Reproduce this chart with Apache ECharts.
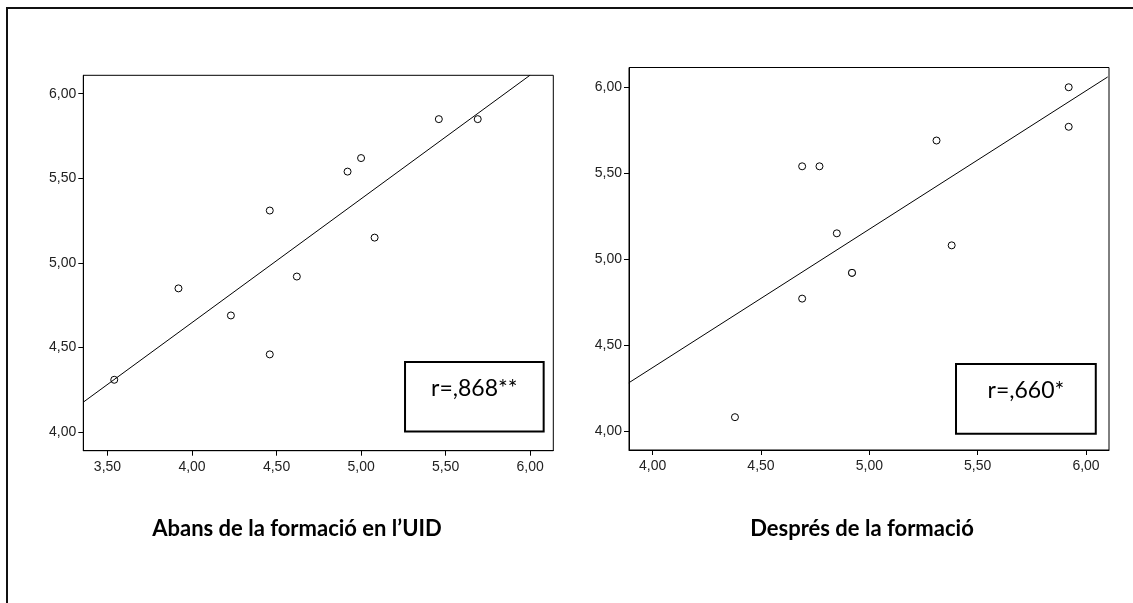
<!DOCTYPE html>
<html><head><meta charset="utf-8">
<script src="https://cdn.jsdelivr.net/npm/echarts@6/dist/echarts.min.js"></script>
<style>html,body{margin:0;padding:0;background:#fff}#c{width:1133px;height:603px}</style>
</head><body><div id="c"></div>
<script>
// ---- data ----
const beforeX = [3.54, 3.92, 4.23, 4.46, 4.46, 4.62, 4.92, 5.00, 5.08, 5.46, 5.69];
const beforeY = [4.31, 4.85, 4.69, 5.31, 4.46, 4.92, 5.54, 5.62, 5.15, 5.85, 5.85];
const afterX  = [4.38, 4.69, 4.69, 4.77, 4.85, 4.92, 4.92, 5.31, 5.38, 5.92, 5.92];
const afterY  = [4.08, 5.54, 4.77, 5.54, 5.15, 4.92, 4.92, 5.69, 5.08, 6.00, 5.77];
const beforeFitX = [3.36, 6.00];
const beforeFitY = [4.18, 6.11];
const afterFitX = [3.89, 6.10];
const afterFitY = [4.28, 6.06];
const beforeXTicks = [3.5, 4.0, 4.5, 5.0, 5.5, 6.0];
const afterXTicks = [4.0, 4.5, 5.0, 5.5, 6.0];
const yTicks = [4.0, 4.5, 5.0, 5.5, 6.0];
const titles = ['Abans de la formació en l\u2019UID', 'Després de la formació'];
const rLabels = ['r=,868**', 'r=,660*'];
const beforeBoxX = [5.26, 6.08];
const beforeBoxY = [4.415, 4.005];
const afterBoxX = [5.40, 6.045];
const afterBoxY = [4.39, 3.983];

const fmt = v => Number(v).toFixed(2).replace('.', ',');
const zip = (a, b) => a.map((v, i) => [v, b[i]]);

function xAxis(gi, min, max, ticks) {
  return {
    type: 'value', gridIndex: gi, min, max,
    axisLine: { show: true, onZero: false, lineStyle: { color: '#000', width: 1 } },
    axisTick: { show: true, customValues: ticks, length: 5, lineStyle: { color: '#000' } },
    axisLabel: { customValues: ticks, formatter: fmt, margin: 9, color: '#222', fontFamily: 'Liberation Sans', fontSize: 14 },
    splitLine: { show: false }
  };
}
function yAxis(gi, min, max, ticks) {
  return {
    type: 'value', gridIndex: gi, min, max,
    axisLine: { show: true, onZero: false, lineStyle: { color: '#000', width: 1 } },
    axisTick: { show: true, customValues: ticks, length: 5, lineStyle: { color: '#000' } },
    axisLabel: { customValues: ticks, formatter: fmt, margin: 7, color: '#222', fontFamily: 'Liberation Sans', fontSize: 14 },
    splitLine: { show: false }
  };
}
function scatter(gi, xs, ys, boxX, boxY, label) {
  return {
    type: 'scatter', xAxisIndex: gi, yAxisIndex: gi, data: zip(xs, ys),
    symbol: 'circle', symbolSize: 7, silent: true,
    itemStyle: { color: '#fff', borderColor: '#000', borderWidth: 1, opacity: 1 },
    markArea: {
      silent: true,
      itemStyle: { color: '#fff', borderColor: '#000', borderWidth: 2, opacity: 1 },
      label: { show: true, position: 'inside', offset: [0, -8], formatter: label,
               color: '#000', fontFamily: 'Lato', fontSize: 23 },
      data: [[{ coord: [boxX[0], boxY[0]] }, { coord: [boxX[1], boxY[1]] }]]
    }
  };
}
function fit(gi, xs, ys) {
  return {
    type: 'line', xAxisIndex: gi, yAxisIndex: gi, data: zip(xs, ys),
    symbol: 'none', silent: true, clip: true,
    lineStyle: { color: '#000', width: 1 }
  };
}

const chart = echarts.init(document.getElementById('c'));
chart.setOption({
  animation: false,
  backgroundColor: '#fff',
  grid: [
    { left: 83.3, top: 75.3, width: 470, height: 375.4, show: true, borderColor: '#000', borderWidth: 1, backgroundColor: '#fff' },
    { left: 629, top: 67.5, width: 480, height: 382.5, show: true, borderColor: '#000', borderWidth: 1, backgroundColor: '#fff' }
  ],
  xAxis: [xAxis(0, 3.357, 6.137, beforeXTicks), xAxis(1, 3.891, 6.106, afterXTicks)],
  yAxis: [yAxis(0, 3.891, 6.109, yTicks), yAxis(1, 3.889, 6.115, yTicks)],
  series: [
    scatter(0, beforeX, beforeY, beforeBoxX, beforeBoxY, rLabels[0]),
    fit(0, beforeFitX, beforeFitY),
    scatter(1, afterX, afterY, afterBoxX, afterBoxY, rLabels[1]),
    fit(1, afterFitX, afterFitY)
  ],
  graphic: [
    { type: 'polyline', shape: { points: [[7, 603], [7, 8], [1133, 8]] }, style: { stroke: '#111', lineWidth: 2, fill: null }, silent: true },
    { type: 'text', x: 297, y: 529, style: { text: titles[0], textAlign: 'center', textVerticalAlign: 'middle', font: 'bold 22px Lato', fill: '#000' } },
    { type: 'text', x: 862, y: 529, style: { text: titles[1], textAlign: 'center', textVerticalAlign: 'middle', font: 'bold 22px Lato', fill: '#000' } }
  ]
});
</script></body></html>
